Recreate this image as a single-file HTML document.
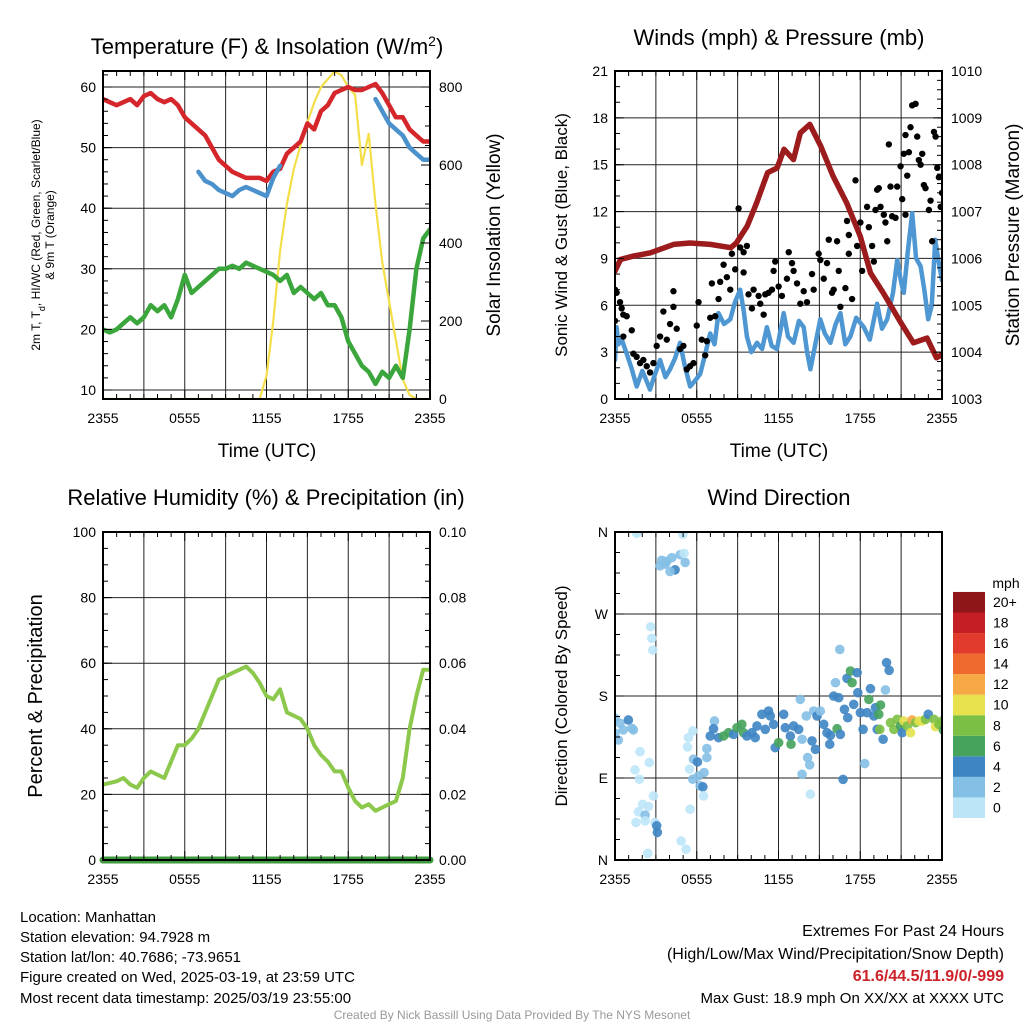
<!DOCTYPE html>
<html><head><meta charset="utf-8"><style>
html,body{margin:0;padding:0;background:#fff}
svg{display:block;font-family:"Liberation Sans",Arial,sans-serif}
</style></head><body>
<svg id="svg" width="1024" height="1024" viewBox="0 0 1024 1024" xmlns="http://www.w3.org/2000/svg">
<defs>
<clipPath id="c1"><rect x="103" y="71" width="327" height="328"/></clipPath>
<clipPath id="c2"><rect x="615" y="71" width="327" height="328"/></clipPath>
<clipPath id="c3"><rect x="103" y="532" width="327" height="328"/></clipPath>
<clipPath id="c4"><rect x="615" y="532" width="327" height="328"/></clipPath>
</defs>
<g id="grids"></g>
<g id="series"></g>
<g id="axes"></g>
<g id="labels" font-size="14" fill="#000">
<text x="267" y="54" font-size="22" text-anchor="middle">Temperature (F) &amp; Insolation (W/m<tspan baseline-shift="super" font-size="14">2</tspan>)</text>
<text x="779" y="45" font-size="22" text-anchor="middle">Winds (mph) &amp; Pressure (mb)</text>
<text x="266" y="505" font-size="22" text-anchor="middle">Relative Humidity (%) &amp; Precipitation (in)</text>
<text x="779" y="505" font-size="22" text-anchor="middle">Wind Direction</text>
<text x="267" y="457" font-size="19" text-anchor="middle">Time (UTC)</text>
<text x="779" y="457" font-size="19" text-anchor="middle">Time (UTC)</text>
<text transform="translate(40,235) rotate(-90)" font-size="12" text-anchor="middle"><tspan x="0" y="0">2m T, T<tspan baseline-shift="sub" font-size="9">d</tspan>, HI/WC (Red, Green, Scarlet/Blue)</tspan><tspan x="0" y="14">&amp; 9m T (Orange)</tspan></text>
<text transform="translate(500,235) rotate(-90)" font-size="19" text-anchor="middle">Solar Insolation (Yellow)</text>
<text transform="translate(567,235) rotate(-90)" font-size="17" text-anchor="middle">Sonic Wind &amp; Gust (Blue, Black)</text>
<text transform="translate(1019,235) rotate(-90)" font-size="19" text-anchor="middle">Station Pressure (Maroon)</text>
<text transform="translate(42,696) rotate(-90)" font-size="20" text-anchor="middle">Percent &amp; Precipitation</text>
<text transform="translate(567,696) rotate(-90)" font-size="17" text-anchor="middle">Direction (Colored By Speed)</text>
<g font-size="15">
<text x="20" y="922">Location: Manhattan</text>
<text x="20" y="942">Station elevation: 94.7928 m</text>
<text x="20" y="962">Station lat/lon: 40.7686; -73.9651</text>
<text x="20" y="982">Figure created on Wed, 2025-03-19, at 23:59 UTC</text>
<text x="20" y="1003">Most recent data timestamp: 2025/03/19 23:55:00</text>
</g>
<g font-size="16" text-anchor="end">
<text x="1004" y="936">Extremes For Past 24 Hours</text>
<text x="1004" y="959">(High/Low/Max Wind/Precipitation/Snow Depth)</text>
<text x="1004" y="981" fill="#cc2229" font-weight="bold">61.6/44.5/11.9/0/-999</text>
<text x="1004" y="1003" font-size="15">Max Gust: 18.9 mph On XX/XX at XXXX UTC</text>
</g>
<text x="512" y="1019" font-size="12" fill="#999" text-anchor="middle">Created By Nick Bassill Using Data Provided By The NYS Mesonet</text>
<text x="1006" y="588" font-size="14" text-anchor="middle">mph</text>
</g>
<g id="colorbar"></g>
</svg>
<script>
// ---------- data ----------
const T_HOURS=[0,0.5,1,1.5,2,2.5,3,3.5,4,4.5,5,5.5,6,6.5,7,7.5,8,8.5,9,9.5,10,10.5,11,11.5,12,12.5,13,13.5,14,14.5,15,15.5,16,16.5,17,17.5,18,18.5,19,19.5,20,20.5,21,21.5,22,22.5,23,23.5,24];
const TEMP=[58,57.5,57,57.5,58,57,58.5,59,58,57.5,58,57,55,54,53,52,50,48,47,46,45.5,45,45,45,44.5,46,46.5,49,50,51,54,53,56,57,59,59.5,60,59.5,59.5,60,60.5,59,57,55,55,53,52,51,51];
const HIWC=[null,null,null,null,null,null,null,null,null,null,null,null,null,null,46,44.5,44,43,42.5,42,43,43.5,43,42.5,42,45,47,null,null,null,null,null,null,null,null,null,null,null,null,null,58,56,54,53,52,50,49,48,48];
const DEWPT=[20,19.5,20,21,22,21,22,24,23,24,22,25,29,26,27,28,29,30,30,30.5,30,31,30.5,30,29.5,29,28,29,26,27,26,25,26,24,24,22,18,16,14,13,11,13,12,14,12,20,30,35,36.5];
const INSOL=[0,0,0,0,0,0,0,0,0,0,0,0,0,0,0,0,0,0,0,0,0,0,0,0,60,200,380,500,590,650,710,760,800,820,840,830,800,780,600,680,500,350,250,150,50,10,0,0,0];
const RH=[23,23.5,24,25,23,22,25,27,26,25,30,35,35,37,40,45,50,55,56,57,58,59,57,54,50,49,52,45,44,43,40,35,32,30,27,27,22,18,16,17,15,16,17,18,25,40,50,58,58];
const PRECIP=[0,0,0,0,0,0,0,0,0,0,0,0,0,0,0,0,0,0,0,0,0,0,0,0,0,0,0,0,0,0,0,0,0,0,0,0,0,0,0,0,0,0,0,0,0,0,0,0,0];
const WIND_HOURS=[0,0.12,0.25,0.5,0.86,1.2,1.59,2.0,2.3,2.57,2.9,3.31,3.7,4.04,4.4,4.78,5.1,5.51,5.9,6.25,6.6,6.99,7.3,7.6,8.0,8.46,8.8,9.19,9.45,9.68,10.0,10.42,10.8,11.15,11.5,11.89,12.1,12.38,12.7,13.11,13.5,13.85,14.1,14.34,14.7,15.07,15.4,15.81,16.2,16.54,16.9,17.28,17.7,18.26,18.7,19.24,19.6,19.98,20.4,20.71,21.0,21.2,21.5,21.81,22.1,22.43,22.7,22.99,23.25,23.5,23.75,24];
const WIND=[2.5,4.6,3.5,3.8,2.9,2.0,0.8,1.8,1.2,0.6,1.5,2.5,1.4,1.9,2.6,3.6,2.2,0.8,1.2,1.6,2.8,4.2,3.5,5.5,4.8,5.1,6.2,7.0,5.6,4.0,3.0,3.6,3.2,4.6,3.4,3.2,4.2,5.5,4.0,3.6,5.0,4.6,3.0,1.9,3.5,5.1,4.2,3.6,4.8,5.5,3.5,4.0,5.2,4.6,3.8,6.1,4.5,5.1,6.8,8.9,7.5,6.8,9.5,11.9,9.0,8.5,7.0,5.1,6.0,10.2,8.8,7.6];
const PRES_HOURS=[0,0.4,1.35,2.6,4.3,5.5,7,8.5,8.9,9.7,10.4,11.2,11.9,12.4,13.1,13.6,14.3,15.1,16,17,18,18.75,19.7,21,21.9,22.9,23.6,24];
const PRES=[1005.73,1005.98,1006.05,1006.12,1006.3,1006.33,1006.3,1006.23,1006.33,1006.69,1007.19,1007.83,1007.93,1008.33,1008.11,1008.68,1008.86,1008.4,1007.76,1007.19,1006.47,1005.69,1005.26,1004.62,1004.2,1004.3,1003.88,1003.95];
const GUST_HOURS=[0,0.12,0.37,0.49,0.61,0,0.86,1.23,0.61,1.35,1.59,1.84,2.08,2.33,2.57,2.82,3.06,3.31,3.55,3.8,4.04,4.29,4.29,4.53,4.78,5.02,5.27,5.51,5.76,6.0,6.13,6.37,6.62,6.74,6.99,7.11,7.35,7.6,7.72,7.97,8.21,8.46,8.58,8.82,9.07,9.19,9.44,9.68,9.44,9.8,10.05,10.17,10.54,10.66,10.91,11.03,11.27,11.52,11.64,11.76,12.01,12.25,12.62,12.75,12.99,13.11,13.36,13.6,13.85,14.09,14.46,14.58,14.95,15.07,15.32,15.56,15.69,15.93,16.05,16.3,16.42,16.54,16.91,17.03,17.16,17.16,17.4,17.65,17.77,18.01,18.14,18.5,18.63,18.87,19.0,19.12,19.24,19.36,19.49,19.73,19.85,19.98,20.1,20.22,20.34,20.59,20.71,20.96,21.08,21.2,21.32,21.32,21.45,21.57,21.69,21.81,22.06,22.18,22.3,22.43,22.55,22.67,22.79,23.04,23.16,23.28,23.41,23.53,23.65,23.77,23.9,24.0];
const GUST=[7.0,6.8,6.2,5.8,5.4,5.0,5.3,4.4,4.0,2.9,2.7,2.3,2.5,2.1,1.7,2.3,3.4,4.0,5.6,3.8,4.8,5.9,6.9,4.5,3.2,3.4,1.9,2.1,2.3,4.7,6.2,3.8,2.8,3.7,5.2,7.4,5.3,6.4,7.5,8.6,7.8,7.0,9.3,8.3,12.2,9.7,9.4,9.8,8.1,6.7,5.8,7.0,6.6,6.1,5.4,6.7,6.8,7.0,8.2,8.8,7.2,6.6,7.7,9.4,8.7,8.2,7.4,6.1,6.9,6.2,8.0,7.0,9.3,8.9,7.7,8.7,10.2,6.8,7.0,10.1,8.2,5.9,7.1,11.4,10.5,9.3,6.4,14.0,9.8,11.3,8.2,12.3,11.0,9.8,8.8,12.1,13.4,13.5,12.3,11.8,11.3,10.1,16.3,13.6,11.7,11.6,13.6,14.9,12.8,15.7,11.8,16.9,14.3,15.8,17.4,18.8,18.9,16.8,15.3,15.0,15.7,13.7,13.5,12.1,12.7,10.1,17.1,16.8,14.8,14.2,12.3,13.2];
const DIR_HOURS=[1.59,4.98,3.43,3.8,4.17,4.78,5.15,4.41,3.31,3.68,4.04,5.07,2.62,2.7,2.77,0,0.37,0.98,0.61,1.23,0.25,0,1.35,1.84,1.47,1.79,2.52,2.82,2.03,2.45,1.72,2.21,1.54,2.21,2.94,3.06,3.11,2.4,4.85,5.22,5.51,5.71,5.39,5.32,5.47,5.76,6.05,5.71,6.13,6.25,6.45,6.5,6.54,6.74,6.74,7.3,6.99,7.23,7.6,7.97,8.33,8.7,8.95,9.31,9.44,9.68,10.05,10.29,10.42,10.78,11.03,11.27,11.4,11.64,11.76,12.01,12.38,12.5,12.87,12.92,13.11,13.48,13.6,13.73,13.73,14.04,14.14,14.29,14.34,14.46,14.58,14.71,14.83,15.07,15.32,15.56,15.76,15.81,16.05,16.18,16.3,16.42,16.5,16.54,16.74,16.84,17.03,17.08,17.28,17.4,17.52,17.77,17.82,18.01,18.21,18.33,18.5,18.63,18.75,19.0,19.12,19.24,19.36,19.49,19.44,19.68,19.85,19.93,20.12,20.22,20.47,20.71,20.96,21.08,21.2,21.45,21.69,21.81,22.06,22.3,22.55,22.79,22.99,23.41,23.53,23.77,24.0,24.1];
const DIR=[358.6,357.6,329,327.8,331.8,335,326.6,318.5,322.9,324.6,316.7,336.6,256,243.3,230.5,155.5,150.1,153.7,142.8,144.6,131.7,139.2,142.8,118.9,98.8,88.6,106.9,70.3,61.2,58.7,52.9,49.2,41.2,43,41.2,37.6,30.3,7.3,20.9,11.8,55.7,141.6,134.3,124.1,99.7,110.6,107.7,88.7,92.3,81.4,80.3,70.4,96,112.4,122.3,152.6,136.1,144.1,134.3,136.1,139.7,137.9,145.2,148.9,139.7,136.1,139.7,134.3,147.1,159.9,143.4,163.5,158.1,148.9,123.3,128.8,159.9,145.2,136.1,127,147.1,143.4,176.3,132.5,94.1,158.1,112.4,104.4,72.2,130.7,163.5,121.5,158.1,163.5,148.9,139.7,127,136.8,179.9,194.6,144.1,178.1,231.1,137.9,88.5,165.4,199.4,156.2,207.4,194.6,170.8,205.6,183.6,161.7,143.4,105.8,161.7,176.3,188,158.1,167.2,143.4,159.9,170.1,143.4,132.5,186.6,216.6,208.2,150.7,143.4,154.4,147.1,139.7,152.6,147.1,139.7,153.7,150.7,152.6,152.6,154.4,159.9,154.4,146.3,148.9,152.6,142.6];
const DIR_SPD=[1,1,3,3,3,3,3,5,3,3,3,1,1,1,1,3,3,5,3,3,3,3,3,1,1,1,1,1,1,1,1,3,1,1,1,5,5,1,1,1,1,1,1,1,1,3,5,3,3,3,5,1,3,3,3,3,5,5,5,7,7,5,7,7,7,5,5,5,5,5,5,5,5,5,5,7,5,5,5,7,5,5,3,3,3,3,3,3,1,5,3,5,5,3,5,5,5,5,5,3,7,5,3,5,5,5,5,5,7,7,5,5,5,5,5,3,5,7,5,5,5,5,7,7,9,5,3,5,5,9,9,9,7,5,11,9,11,13,9,11,11,9,5,9,11,9,9,7];
const X_TICK_LABELS=["2355","0555","1155","1755","2355"];
const TEMP_TICKS=[10,20,30,40,50,60];
const INSOL_TICKS=[0,200,400,600,800];
const WIND_TICKS=[0,3,6,9,12,15,18,21];
const PRES_TICKS=[1003,1004,1005,1006,1007,1008,1009,1010];
const RH_TICKS=[0,20,40,60,80,100];
const PRECIP_TICKS=["0.00","0.02","0.04","0.06","0.08","0.10"];
const DIR_TICKS=["N","E","S","W","N"];
const CB_LABELS=["0","2","4","6","8","10","12","14","16","18","20+"];
const CB_COLORS=["#bde5f8","#84bfe6","#3e85c4","#45a35c","#7cbf45","#e6e14d","#f6a845","#ee6a2d","#e03b2c","#c31f25","#8e1518"];

// ---------- helpers ----------
const NS="http://www.w3.org/2000/svg";
function mk(parent,tag,attrs){const e=document.createElementNS(NS,tag);for(const k in attrs)e.setAttribute(k,attrs[k]);parent.appendChild(e);return e;}
const G=document.getElementById('grids'),S=document.getElementById('series'),A=document.getElementById('axes'),CB=document.getElementById('colorbar');
const PANELS=[{x0:103,x1:430,y0:71,y1:399,c:'c1'},{x0:615,x1:942,y0:71,y1:399,c:'c2'},{x0:103,x1:430,y0:532,y1:860,c:'c3'},{x0:615,x1:942,y0:532,y1:860,c:'c4'}];
function xs(p,h){return p.x0+h/24*(p.x1-p.x0);}
const yTemp=v=>87+(60-v)*(303/50);
const yIns=v=>399-v*(312/800);
const yWind=v=>399-v*328/21;
const yPres=v=>399-(v-1003)*328/7;
const yRH=v=>860-v*3.28;
const yPre=v=>860-v*3280;
const yDir=v=>860-v*328/360;

function linePath(p,hours,vals,fy){let d='',pen=false;for(let i=0;i<vals.length;i++){if(vals[i]==null){pen=false;continue;}d+=(pen?'L':'M')+xs(p,hours[i]).toFixed(1)+','+fy(vals[i]).toFixed(1);pen=true;}return d;}

PANELS.forEach((p,pi)=>{
  const g=mk(G,'g',{});
  
  
  for(let h=3;h<24;h+=3){const x=xs(p,h);mk(g,'line',{x1:x,x2:x,y1:p.y0,y2:p.y1,stroke:'#222','stroke-width':1});}
  const ax=mk(A,'g',{});
  
  
  mk(ax,'rect',{x:p.x0,y:p.y0,width:p.x1-p.x0,height:p.y1-p.y0,fill:'none',stroke:'#000','stroke-width':2});
  for(let h=0;h<=24;h++){const x=xs(p,h);const L=(h%6==0)?9:5;mk(ax,'line',{x1:x,x2:x,y1:p.y1,y2:p.y1-L,stroke:'#000','stroke-width':1});mk(ax,'line',{x1:x,x2:x,y1:p.y0,y2:p.y0+L,stroke:'#000','stroke-width':1});}
  X_TICK_LABELS.forEach((t,i)=>{const tx=mk(ax,'text',{x:xs(p,i*6),y:p.y1+24,'font-size':14,'text-anchor':'middle'});tx.textContent=t;
    
    });
});
function hgrid(p,fy,vals){vals.forEach(v=>{const y=fy(v);if(y>p.y0+1&&y<p.y1-1)mk(G,'line',{x1:p.x0,x2:p.x1,y1:y,y2:y,stroke:'#222','stroke-width':1});});}
function yTicks(p,fy,vals,labels,side,minorStep,lo,hi){
  const x=side=='l'?p.x0:p.x1,dir=side=='l'?1:-1;
  vals.forEach((v,i)=>{const y=fy(v);mk(A,'line',{x1:x,x2:x+dir*9,y1:y,y2:y,stroke:'#000'});
    const t=mk(A,'text',{x:side=='l'?x-7:x+9,y:y+5,'font-size':14,'text-anchor':side=='l'?'end':'start'});t.textContent=labels?labels[i]:v;
    
    });
  if(minorStep){for(let v=lo;v<=hi+1e-9;v+=minorStep){const y=fy(v);if(y>=p.y0&&y<=p.y1)mk(A,'line',{x1:x,x2:x+dir*5,y1:y,y2:y,stroke:'#000'});}}
}
const [P1,P2,P3,P4]=PANELS;
hgrid(P1,yTemp,TEMP_TICKS);hgrid(P2,yWind,WIND_TICKS);hgrid(P3,yRH,RH_TICKS);hgrid(P4,yDir,[90,180,270]);
yTicks(P1,yTemp,TEMP_TICKS,null,'l',2,8,62);yTicks(P1,yIns,INSOL_TICKS,null,'r',50,0,850);
yTicks(P2,yWind,WIND_TICKS,null,'l',1,0,21);yTicks(P2,yPres,PRES_TICKS,null,'r',0.2,1003,1010);
yTicks(P3,yRH,RH_TICKS,null,'l',5,0,100);yTicks(P3,yRH,RH_TICKS,PRECIP_TICKS,'r',5,0,100);
yTicks(P4,yDir,[0,90,180,270,360],DIR_TICKS,'l',22.5,0,360);
mk(G,'line',{x1:P1.x0,x2:P1.x1,y1:71,y2:71,stroke:'#222'});

function series(p,hours,vals,fy,color,w,name,noclip){const attrs={d:linePath(p,hours,vals,fy),fill:'none',stroke:color,'stroke-width':w,'stroke-linejoin':'round','stroke-linecap':'round'};if(!noclip)attrs['clip-path']='url(#'+p.c+')';const path=mk(S,'path',attrs);
  
  }
series(P1,T_HOURS,INSOL,yIns,'#f4df4a',2.2,'insolation-line');
series(P1,T_HOURS,DEWPT,yTemp,'#3aa63c',4.5,'dewpoint-line');
series(P1,T_HOURS,TEMP,yTemp,'#d4262b',4.5,'temperature-line');
series(P1,T_HOURS,HIWC,yTemp,'#4b91cc',4.5,'heat-index-windchill-line');
series(P2,WIND_HOURS,WIND,yWind,'#4e97d2',4.5,'sonic-wind-line');
series(P2,PRES_HOURS,PRES,yPres,'#9c1b1d',5.5,'pressure-line');
GUST.forEach((g,i)=>{const c=mk(S,'circle',{cx:xs(P2,GUST_HOURS[i]),cy:yWind(g),r:3.2,fill:'#000','clip-path':'url(#c2)'});
  
  });
series(P3,T_HOURS,RH,yRH,'#8cc84b',4,'humidity-line');
series(P3,T_HOURS,PRECIP,yPre,'#3c9a3c',7,'precipitation-line',true);
function spdColor(s){let i=Math.floor(s/2);if(i>10)i=10;return CB_COLORS[i];}
DIR.forEach((d,i)=>{const c=mk(S,'circle',{cx:xs(P4,DIR_HOURS[i]),cy:yDir(d),r:4.8,fill:spdColor(DIR_SPD[i]),'fill-opacity':0.9,'clip-path':'url(#c4)'});
  
  });

CB_COLORS.forEach((col,i)=>{const y=818-(i+1)*20.55;const r=mk(CB,'rect',{x:953,y:y,width:32,height:20.55,fill:col});
  
  
  const t=mk(CB,'text',{x:993,y:y+15,'font-size':14});t.textContent=CB_LABELS[i];
  
  });
</script>
</body></html>
